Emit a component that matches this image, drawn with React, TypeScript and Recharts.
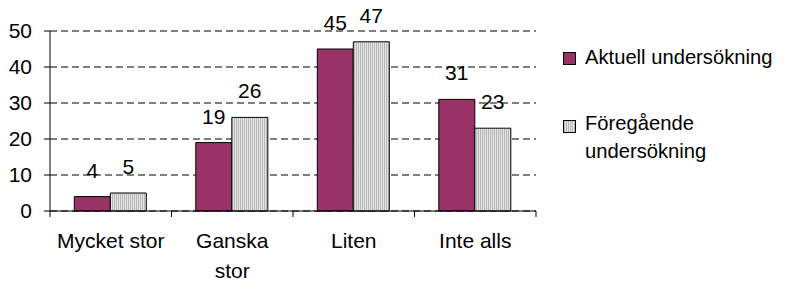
import React from "react";
import { BarChart, Bar, XAxis, YAxis, CartesianGrid, LabelList } from "recharts";

const CATEGORIES = ["Mycket stor", "Ganska stor", "Liten", "Inte alls"];
const TICK_LABEL_LINES = [["Mycket stor"], ["Ganska", "stor"], ["Liten"], ["Inte alls"]];
const CURRENT = [4, 19, 45, 31];
const PREVIOUS = [5, 26, 47, 23];
const Y_TICKS = [0, 10, 20, 30, 40, 50];
const SERIES_NAMES = ["Aktuell undersökning", "Föregående undersökning"];
const LEGEND_LINES = [["Aktuell undersökning"], ["Föregående", "undersökning"]];

const FONT = "'Liberation Sans', Arial, Helvetica, sans-serif";
const PURPLE = "#993366";
const FS = 21;
const X_TICK_SIZE = 6;
const X_TICK_MARGIN = 16;

const data = CATEGORIES.map((c, i) => ({ cat: c, cur: CURRENT[i], prev: PREVIOUS[i], idx: i }));

function XTick(props: any) {
  const { x, y, payload, index, visibleTicksCount } = props;
  const half = payload && payload.offset ? payload.offset : 60.75;
  const axisY = y - X_TICK_SIZE - X_TICK_MARGIN;
  const lines = TICK_LABEL_LINES[index] || [String(payload.value)];
  const isLast = index === (visibleTicksCount ?? CATEGORIES.length) - 1;
  return (
    <g>
      <line x1={x - half} x2={x - half} y1={axisY} y2={axisY + X_TICK_SIZE} stroke="#000" />
      {isLast && <line x1={x + half} x2={x + half} y1={axisY} y2={axisY + X_TICK_SIZE} stroke="#000" />}
      <text x={x} y={y + 15} textAnchor="middle" fontSize={FS} fontFamily={FONT} fill="#000">
        {lines.map((l: string, i: number) => (
          <tspan key={i} x={x} dy={i === 0 ? 0 : 30}>
            {l}
          </tspan>
        ))}
      </text>
    </g>
  );
}

export default function App() {
  return (
    <div style={{ position: "relative", width: 785, height: 283, marginLeft: -8, marginTop: -8, background: "#fff" }}>
      <BarChart
        width={785}
        height={283}
        data={data}
        margin={{ top: 31, right: 249, bottom: 0, left: 0 }}
        barCategoryGap="20%"
        barGap={0}
        style={{ fontFamily: FONT }}
      >
        <defs>
          <pattern id="stripes" width="2" height="4" patternUnits="userSpaceOnUse">
            <rect x="0" y="0" width="1" height="4" fill="#b8b8b8" />
            <rect x="1" y="0" width="1" height="4" fill="#e4e4e4" />
          </pattern>
        </defs>
        <CartesianGrid vertical={false} stroke="#000" strokeDasharray="7 4" />
        <XAxis
          dataKey="cat"
          height={72}
          axisLine={{ stroke: "#000" }}
          tickLine={false}
          tickSize={X_TICK_SIZE}
          tickMargin={X_TICK_MARGIN}
          interval={0}
          tick={<XTick />}
        />
        <YAxis
          width={50}
          domain={[0, 50]}
          ticks={Y_TICKS}
          interval={0}
          axisLine={{ stroke: "#000" }}
          tickLine={{ stroke: "#000" }}
          tickSize={6}
          tickMargin={12}
          tick={{ fill: "#000", fontSize: FS, fontFamily: FONT }}
        />
        <Bar dataKey="cur" name={SERIES_NAMES[0]} fill={PURPLE} stroke="#000" strokeWidth={1} isAnimationActive={false}>
          <LabelList dataKey="cur" position="top" offset={19} fill="#000" fontSize={FS} fontFamily={FONT} />
        </Bar>
        <Bar dataKey="prev" name={SERIES_NAMES[1]} fill="url(#stripes)" stroke="#000" strokeWidth={1} isAnimationActive={false}>
          <LabelList dataKey="prev" position="top" offset={19} fill="#000" fontSize={FS} fontFamily={FONT} />
        </Bar>
      </BarChart>
      <svg
        width={785}
        height={283}
        style={{ position: "absolute", left: 0, top: 0, pointerEvents: "none" }}
      >
        <defs>
          <pattern id="stripes2" width="2" height="4" patternUnits="userSpaceOnUse">
            <rect x="0" y="0" width="1" height="4" fill="#b8b8b8" />
            <rect x="1" y="0" width="1" height="4" fill="#e4e4e4" />
          </pattern>
        </defs>
        <rect x={563.5} y={52.5} width={12} height={12} fill={PURPLE} stroke="#000" />
        <rect x={563.5} y={120.5} width={12} height={12} fill="url(#stripes2)" stroke="#000" />
        <text x={585} y={64} fontSize={20.2} fontFamily={FONT} fill="#000">
          {LEGEND_LINES[0][0]}
        </text>
        <text x={585} y={130} fontSize={20.2} fontFamily={FONT} fill="#000">
          {LEGEND_LINES[1].map((l, i) => (
            <tspan key={i} x={585} dy={i === 0 ? 0 : 28}>
              {l}
            </tspan>
          ))}
        </text>
      </svg>
    </div>
  );
}
